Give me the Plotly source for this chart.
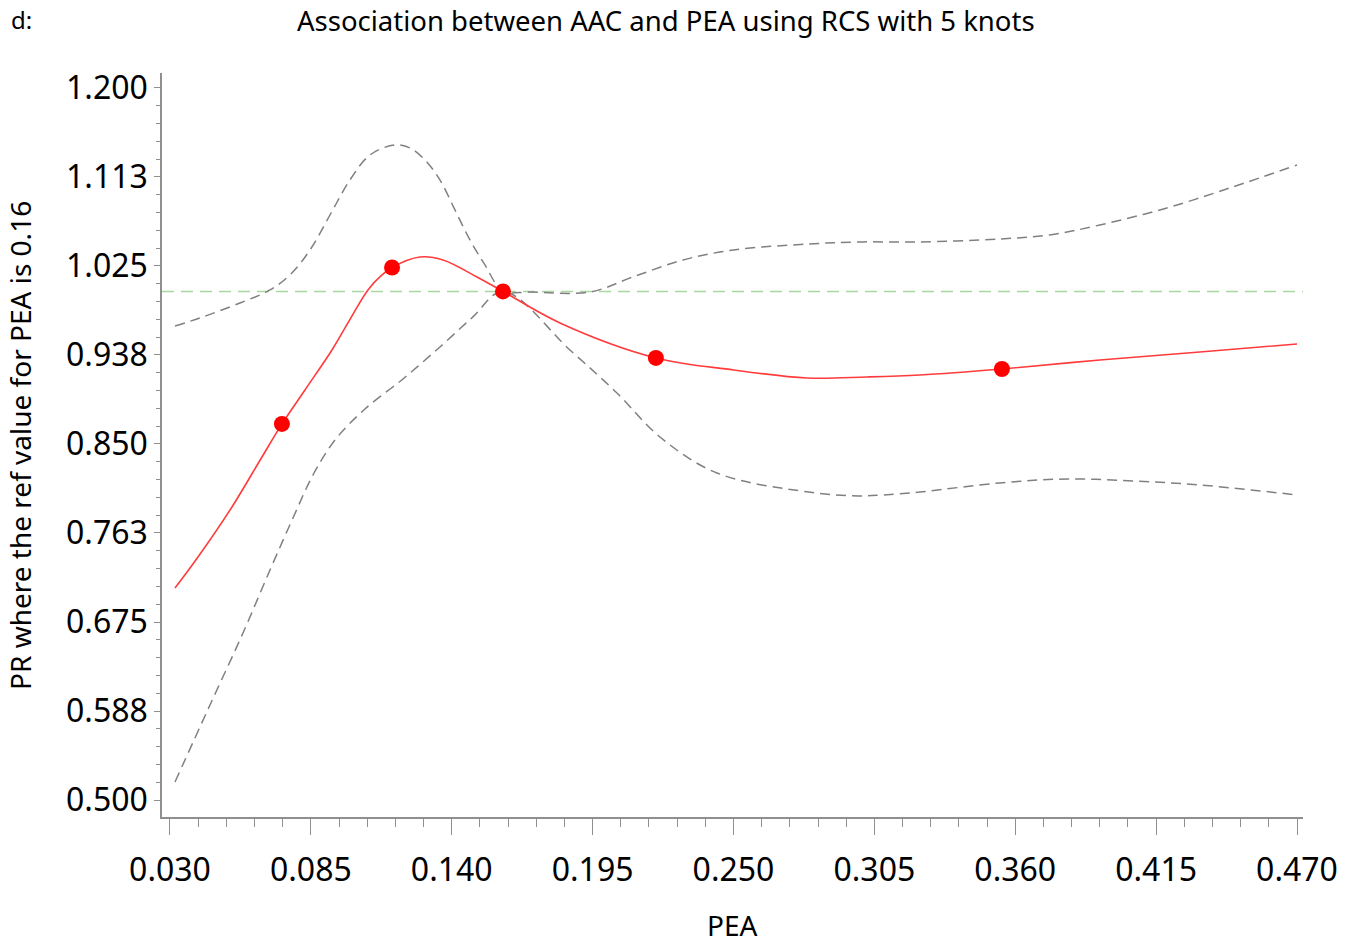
import plotly.graph_objects as go

# ---- data ----
pea_curve = [0.03195, 0.04093, 0.05420, 0.06591, 0.07372, 0.08270, 0.09324, 0.09948,
             0.10729, 0.11275, 0.11666, 0.12759, 0.13657, 0.14984, 0.16, 0.18224,
             0.21971, 0.25, 0.27865, 0.30207, 0.32276, 0.35477, 0.39303, 0.43206, 0.47]
pr_curve = [0.7084, 0.7389, 0.7881, 0.8372, 0.8697, 0.9031, 0.9424, 0.9690,
            1.0014, 1.0162, 1.0235, 1.0338, 1.0309, 1.0142, 1.0, 0.9690,
            0.9346, 0.9228, 0.9149, 0.9159, 0.9178, 0.9237, 0.9326, 0.9404, 0.9483]

knots_pea = [0.0737, 0.1167, 0.16, 0.2197, 0.3548]
knots_pr = [0.8697, 1.0235, 1.0, 0.9346, 0.9237]

upper_pea = [0.03195, 0.04171, 0.05732, 0.06904, 0.07684, 0.08465, 0.09246, 0.10026,
             0.10807, 0.11783, 0.12368, 0.12954, 0.13539, 0.14125, 0.14711, 0.15296,
             0.16, 0.17053, 0.19395, 0.21073, 0.23025, 0.25, 0.27928, 0.29880,
             0.32159, 0.35399, 0.37351, 0.39303, 0.41918, 0.44494, 0.47]
upper_pr = [0.9660, 0.9739, 0.9886, 1.0014, 1.0162, 1.0407, 1.0751, 1.1096,
            1.1341, 1.1440, 1.1410, 1.1292, 1.1096, 1.0801, 1.0506, 1.0260,
            1.0004, 0.9994, 0.9994, 1.0142, 1.0309, 1.0407, 1.0466, 1.0486,
            1.0486, 1.0515, 1.0555, 1.0653, 1.0820, 1.1027, 1.1243]

lower_pea = [0.03195, 0.04561, 0.05850, 0.06904, 0.07801, 0.08582, 0.09441, 0.10612,
             0.12095, 0.13539, 0.14828, 0.16, 0.18614, 0.20449, 0.22127,
             0.24352, 0.27928, 0.29880, 0.30832, 0.32276, 0.35399, 0.38014, 0.40591,
             0.43206, 0.47]
lower_pr = [0.5177, 0.5934, 0.6642, 0.7261, 0.7772, 0.8195, 0.8539, 0.8844,
            0.9139, 0.9454, 0.9749, 1.0, 0.9424, 0.9001, 0.8569,
            0.8215, 0.8028, 0.7989, 0.7999, 0.8028, 0.8117, 0.8156, 0.8136,
            0.8097, 0.7999]

ref_pr = 1.0

x_tickvals = [0.030, 0.085, 0.140, 0.195, 0.250, 0.305, 0.360, 0.415, 0.470]
x_ticktext = ["0.030", "0.085", "0.140", "0.195", "0.250", "0.305", "0.360", "0.415", "0.470"]
y_tickvals = [0.5, 0.5875, 0.675, 0.7625, 0.85, 0.9375, 1.025, 1.1125, 1.2]
y_ticktext = ["0.500", "0.588", "0.675", "0.763", "0.850", "0.938", "1.025", "1.113", "1.200"]

FONT = "Noto Sans"
AXIS_GRAY = "#8f8f8f"

fig = go.Figure()

fig.add_shape(type="line", xref="paper", x0=0, x1=1, yref="y", y0=ref_pr, y1=ref_pr,
              line=dict(color="#a8d8a0", width=1.5, dash="12px,7px"), layer="below")

fig.add_trace(go.Scatter(x=upper_pea, y=upper_pr, mode="lines", line_shape="spline",
                         line=dict(color="#808080", width=1.5, dash="10px,6px"),
                         showlegend=False, hoverinfo="skip"))
fig.add_trace(go.Scatter(x=lower_pea, y=lower_pr, mode="lines", line_shape="spline",
                         line=dict(color="#808080", width=1.5, dash="10px,6px"),
                         showlegend=False, hoverinfo="skip"))
fig.add_trace(go.Scatter(x=pea_curve, y=pr_curve, mode="lines", line_shape="spline",
                         line=dict(color="#ff3b3b", width=1.6), showlegend=False))
fig.add_trace(go.Scatter(x=knots_pea, y=knots_pr, mode="markers",
                         marker=dict(color="#ff0000", size=16), showlegend=False))

fig.update_layout(
    width=1355, height=946,
    margin=dict(l=162, r=52, t=73, b=129),
    paper_bgcolor="white", plot_bgcolor="white",
    font=dict(family=FONT, color="black"),
    showlegend=False,
    xaxis=dict(range=[0.02688, 0.47234], tickmode="array", tickvals=x_tickvals,
               ticktext=x_ticktext, ticks="outside", ticklen=16, tickwidth=1.3,
               tickcolor=AXIS_GRAY, showline=True, linecolor=AXIS_GRAY, linewidth=1.5,
               showgrid=False, zeroline=False, tickfont=dict(size=32, family=FONT),
               ticklabelstandoff=8,
               minor=dict(tick0=0.030, dtick=0.011, ticks="outside", ticklen=8,
                          tickcolor=AXIS_GRAY, tickwidth=1.2)),
    yaxis=dict(range=[0.4833, 1.2147], tickmode="array", tickvals=y_tickvals,
               ticktext=y_ticktext, ticks="outside", ticklen=6, tickwidth=1.2,
               tickcolor=AXIS_GRAY, showline=True, linecolor=AXIS_GRAY, linewidth=1.5,
               showgrid=False, zeroline=False, tickfont=dict(size=32, family=FONT),
               minor=dict(tick0=0.5, dtick=0.0175, ticks="outside", ticklen=4,
                          tickcolor=AXIS_GRAY, tickwidth=1.0)),
    annotations=[
        dict(text="d:", xref="paper", yref="paper", x=-0.1345, y=1.072,
             xanchor="left", yanchor="middle", showarrow=False, font=dict(size=24)),
        dict(text="Association between AAC and PEA using RCS with 5 knots", xref="paper",
             yref="paper", x=0.4417, y=1.0700, xanchor="center", yanchor="middle",
             showarrow=False, font=dict(size=27.5)),
        dict(text="PR where the ref value for PEA is 0.16", xref="paper", yref="paper",
             x=-0.1245, y=0.5, xanchor="center", yanchor="middle", textangle=-90,
             showarrow=False, font=dict(size=28)),
        dict(text="PEA", xref="paper", yref="paper", x=0.5, y=-0.1734,
             xanchor="center", yanchor="bottom", showarrow=False, font=dict(size=28)),
    ],
)

fig.write_html("out.html")
